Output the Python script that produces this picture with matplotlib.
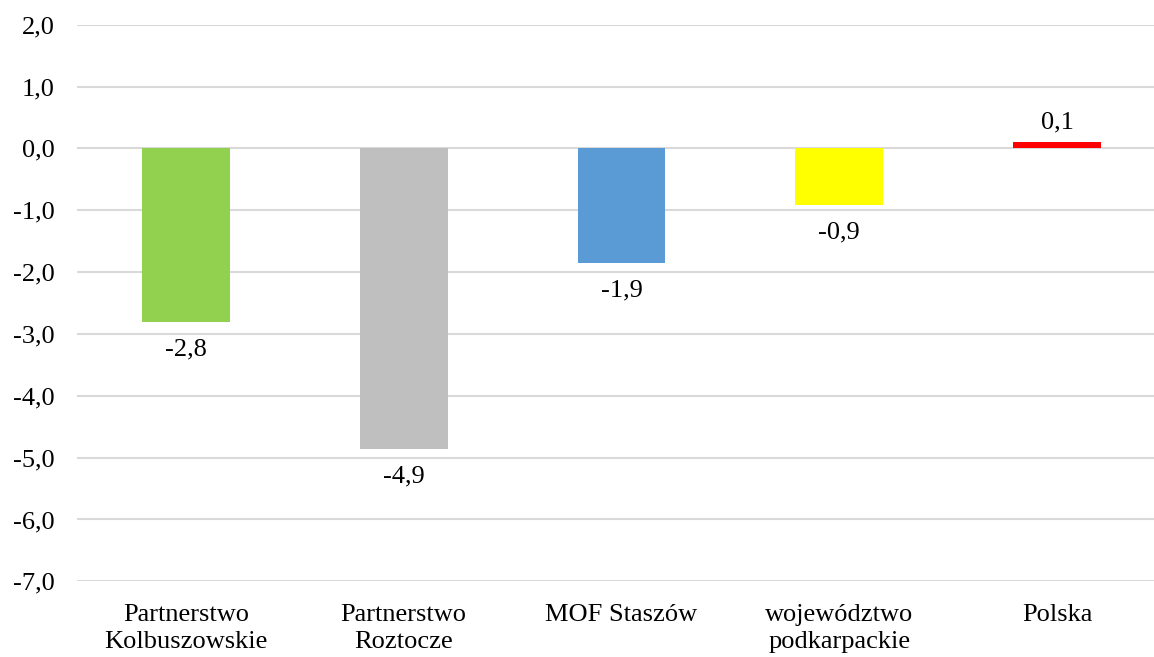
import matplotlib.pyplot as plt

plt.rcParams['font.family'] = ['Liberation Serif', 'DejaVu Serif']

categories = ['Partnerstwo\nKolbuszowskie', 'Partnerstwo\nRoztocze', 'MOF Staszów',
              'województwo\npodkarpackie', 'Polska']
values = [-2.8, -4.86, -1.85, -0.92, 0.11]
labels = ['-2,8', '-4,9', '-1,9', '-0,9', '0,1']
colors = ['#92d050', '#bfbfbf', '#5b9bd5', '#ffff00', '#ff0000']
yticks = [2, 1, 0, -1, -2, -3, -4, -5, -6, -7]

fs = 19

fig = plt.figure(figsize=(11.54, 6.57), dpi=100)
ax = fig.add_axes([77 / 1154, 1 - 581.3 / 657, 1089 / 1154, (581.3 - 24.7) / 657])

x = range(len(categories))
bars = ax.bar(x, values, width=0.404, color=colors, zorder=3)

for b, v, lab in zip(bars, values, labels):
    if v < 0:
        ax.annotate(lab, (b.get_x() + b.get_width() / 2, v), xytext=(0, -12),
                    textcoords='offset points', ha='center', va='top', fontsize=fs)
    else:
        ax.annotate(lab, (b.get_x() + b.get_width() / 2, v), xytext=(0, 6),
                    textcoords='offset points', ha='center', va='bottom', fontsize=fs)

ax.set_xlim(-0.5, len(categories) - 0.5)
ax.set_ylim(-7, 2)
ax.set_yticks(yticks)
ax.set_yticklabels([f'{t:.1f}'.replace('.', ',') for t in yticks], fontsize=fs)
ax.set_xticks(list(x))
ax.set_xticklabels(categories, fontsize=fs, linespacing=1.35)
ax.tick_params(axis='y', length=0, pad=16)
ax.tick_params(axis='x', length=0, pad=16)
ax.yaxis.grid(True, color='#d9d9d9', linewidth=1.5, zorder=0)
for s in ax.spines.values():
    s.set_visible(False)

fig.savefig('out.png', dpi=100)
